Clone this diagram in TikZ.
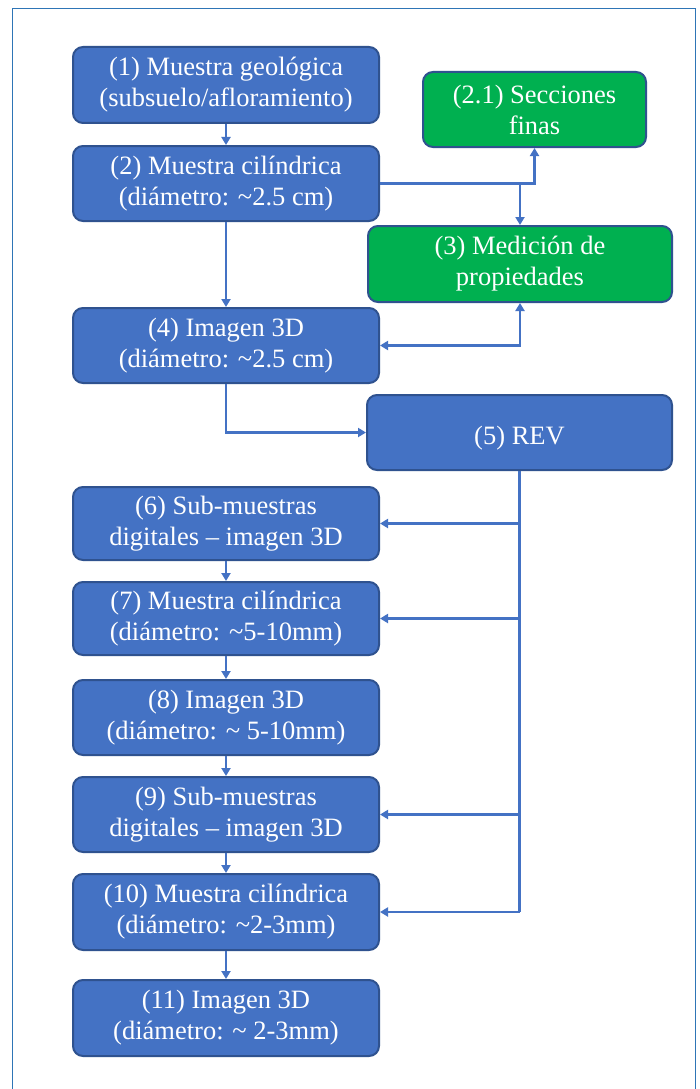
\documentclass[tikz,border=0pt]{standalone}
\usepackage{fontspec}
\setmainfont{Liberation Serif}
\usetikzlibrary{arrows.meta}
\definecolor{boxblue}{HTML}{4472C4}
\definecolor{edgeblue}{HTML}{2F528F}
\definecolor{boxgreen}{HTML}{00B050}
\definecolor{framecol}{HTML}{2E75B6}
\definecolor{linecol}{HTML}{4472C4}
\newcommand\toppad{\rule{0pt}{30pt}}
\begin{document}
\begin{tikzpicture}[x=1pt,y=-1pt,
  box/.style={draw=edgeblue, line width=2pt, rounded corners=10pt, fill=boxblue,
    text=white, align=center, font=\fontsize{26.5}{31}\selectfont, inner sep=0pt,
    minimum width=306pt, minimum height=75pt, execute at begin node=\toppad},
  gbox/.style={box, fill=boxgreen},
  tip/.tip={Triangle[length=8pt,width=9pt]},
  link/.style={draw=linecol, line width=2.2pt},
  conn/.style={link, -tip},
]
\path[use as bounding box] (0,0) rectangle (699,1089);
\clip (0,0) rectangle (699,1089);
\fill[white] (0,0) rectangle (699,1089);
\draw[framecol, line width=1.5pt] (12.7,8.3) rectangle (695.7,1110);

\node[box, minimum height=76pt] (b1) at (226,85) {(1) Muestra geológica\\(subsuelo/afloramiento)};
\node[box] (b2) at (226,183.5) {(2) Muestra cilíndrica\\(diámetro: \textasciitilde2.5 cm)};
\node[gbox, minimum width=223pt] (b21) at (534.5,109.5) {(2.1) Secciones\\finas};
\node[gbox, minimum width=304pt, minimum height=76pt] (b3) at (520,264) {(3) Medición de\\propiedades};
\node[box] (b4) at (226,345.5) {(4) Imagen 3D\\(diámetro: \textasciitilde2.5 cm)};
\node[box, minimum width=305pt] (b5) at (519.5,432.5) {(5) REV};
\node[box, minimum height=73pt] (b6) at (226,523.5) {(6) Sub-muestras\\digitales – imagen 3D};
\node[box, minimum height=73pt] (b7) at (226,618.5) {(7) Muestra cilíndrica\\(diámetro: \textasciitilde5-10mm)};
\node[box] (b8) at (226,717.5) {(8) Imagen 3D\\(diámetro: \textasciitilde{} 5-10mm)};
\node[box] (b9) at (226,814.5) {(9) Sub-muestras\\digitales – imagen 3D};
\node[box, minimum height=76pt] (b10) at (226,912) {(10) Muestra cilíndrica\\(diámetro: \textasciitilde2-3mm)};
\node[box, minimum height=76pt] (b11) at (226,1018) {(11) Imagen 3D\\(diámetro: \textasciitilde{} 2-3mm)};

\draw[conn] (b1) -- (b2);
\draw[conn] (b2) -- (b4);
\draw[conn] (b2.east) -| (b21.south);
\draw[conn] (b2.east -| b3.north) -- (b3.north);
\draw[link, tip-tip] (b4.east) -| (b3.south);
\draw[conn] (b4.south) |- (b5.west);
\coordinate (j) at (b5.south |- b10.east);
\draw[link] (b5.south) -- (j);
\draw[conn] (b5.south |- b6.east) -- (b6.east);
\draw[conn] (b5.south |- b7.east) -- (b7.east);
\draw[conn] (b5.south |- b9.east) -- (b9.east);
\draw[conn] (j) -- (b10.east);
\draw[conn] (b6) -- (b7);
\draw[conn] (b7) -- (b8);
\draw[conn] (b8) -- (b9);
\draw[conn] (b9) -- (b10);
\draw[conn] (b10) -- (b11);
\end{tikzpicture}
\end{document}
